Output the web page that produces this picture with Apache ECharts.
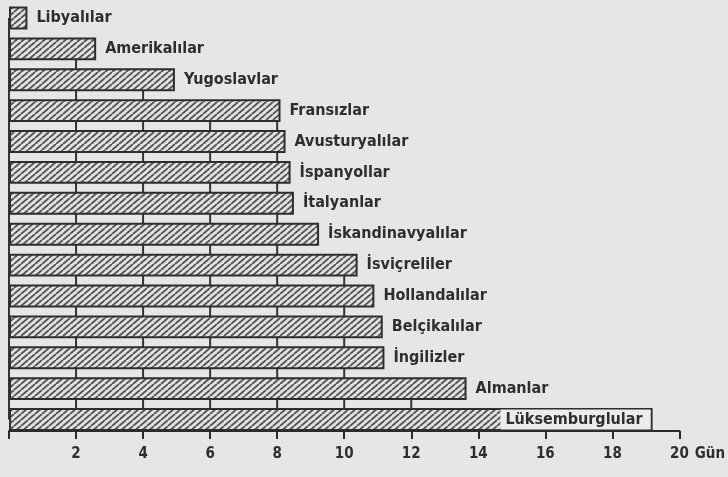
<!DOCTYPE html>
<html>
<head>
<meta charset="utf-8">
<script src="https://cdn.jsdelivr.net/npm/echarts@6/dist/echarts.min.js"></script>
<style>
html,body{margin:0;padding:0;background:#e6e6e4;}
#c{width:728px;height:477px;}
</style>
</head>
<body>
<div id="c"></div>
<script>
// ---- data ----
var categories = ['Libyalılar','Amerikalılar','Yugoslavlar','Fransızlar','Avusturyalılar','İspanyollar','İtalyanlar','İskandinavyalılar','İsviçreliler','Hollandalılar','Belçikalılar','İngilizler','Almanlar','Lüksemburglular'];
var days = [0.55, 2.6, 4.95, 8.1, 8.25, 8.4, 8.5, 9.25, 10.4, 10.9, 11.15, 11.2, 13.65, 19.2];
var tickValues = [0, 2, 4, 6, 8, 10, 12, 14, 16, 18, 20];
var unitName = 'Gün';

// hatch pattern (diagonal "/" lines)
function hatch() {
  var w = 7, h = 6, cv = document.createElement('canvas');
  cv.width = w; cv.height = h;
  var g = cv.getContext('2d');
  g.fillStyle = '#e2e2e0'; g.fillRect(0, 0, w, h);
  g.strokeStyle = '#555'; g.lineWidth = 1.9;
  g.beginPath();
  [-w, 0, w].forEach(function (dx) {
    g.moveTo(dx, h); g.lineTo(dx + w, 0);
  });
  g.stroke();
  return cv;
}

var connectors = [];
for (var i = 0; i < days.length - 1; i++) {
  connectors.push([Math.min(days[i], days[i + 1]), i]);
}

var font = '"DejaVu Sans Condensed", "DejaVu Sans", sans-serif';
var chart = echarts.init(document.getElementById('c'));
var barData = days.map(function (v, i) {
  if (i === days.length - 1) {
    return {
      value: v,
      label: {
        position: 'insideRight', distance: 2,
        backgroundColor: '#ececea', height: 20, lineHeight: 20,
        padding: [0, 8, 0, 5]
      }
    };
  }
  return v;
});

chart.setOption({
  backgroundColor: '#e6e6e4',
  animation: false,
  grid: { left: 9, right: 48, top: 2.5, bottom: 42, containLabel: false },
  xAxis: {
    type: 'value', min: 0, max: 20, interval: 2, offset: -4,
    name: unitName, nameLocation: 'end', nameGap: 15,
    nameTextStyle: { fontFamily: font, fontWeight: 'bold', fontSize: 15, color: '#2e2e2e', verticalAlign: 'top', padding: [16, 0, 0, 0] },
    axisLine: { show: true, lineStyle: { color: '#2a2a2a', width: 2 } },
    axisTick: { show: true, length: 8, lineStyle: { color: '#2a2a2a', width: 2 } },
    axisLabel: {
      margin: 16, fontFamily: font, fontWeight: 'bold', fontSize: 15, color: '#2e2e2e',
      formatter: function (v) { return tickValues.indexOf(v) > 0 ? String(v) : ''; }
    },
    splitLine: { show: false }
  },
  yAxis: {
    type: 'category', data: categories, inverse: true,
    axisLine: { show: false }, axisTick: { show: false }, axisLabel: { show: false }
  },
  series: [
    {
      type: 'custom', z: 1, silent: true,
      encode: { x: 0, y: 1 },
      data: connectors,
      renderItem: function (params, api) {
        var m = api.value(0), idx = api.value(1), kids = [];
        tickValues.forEach(function (t) {
          if (t < m) {
            var a = api.coord([t, idx]), b = api.coord([t, idx + 1]);
            kids.push({ type: 'line', shape: { x1: a[0], y1: a[1], x2: b[0], y2: b[1] }, style: { stroke: '#333', lineWidth: 2 } });
          }
        });
        return { type: 'group', children: kids };
      }
    },
    {
      type: 'bar', z: 2,
      data: barData,
      barCategoryGap: '26%',
      itemStyle: { color: { image: hatch(), repeat: 'repeat' }, borderColor: '#2e2e2e', borderWidth: 2 },
      label: {
        show: true, position: 'right', distance: 9,
        fontFamily: font, fontWeight: 'bold', fontSize: 16, color: '#2e2e2e',
        formatter: function (p) { return p.name; }
      }
    }
  ]
});
</script>
</body>
</html>
